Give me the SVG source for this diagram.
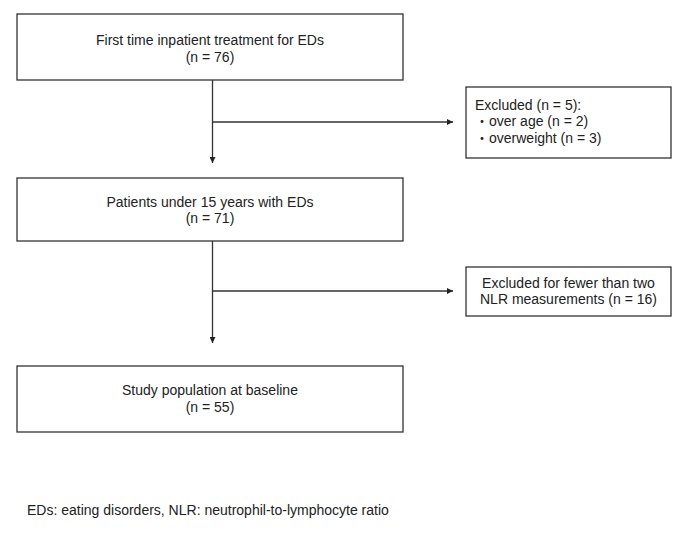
<svg xmlns="http://www.w3.org/2000/svg" width="685" height="533" viewBox="0 0 685 533">
<defs>
<style>
.box{fill:#fff;stroke:#333;stroke-width:1.3}
.ln{fill:none;stroke:#333;stroke-width:1.3}
text{font-family:"Liberation Sans",Arial,"Noto Sans CJK JP",sans-serif;font-size:14px;fill:#222}
.c{text-anchor:middle}
</style>
<marker id="ah" viewBox="0 0 10 10" refX="10" refY="5" markerWidth="6" markerHeight="6" markerUnits="userSpaceOnUse" orient="auto">
<path d="M0,0 L10,5 L0,10 z" fill="#222"/>
</marker>
</defs>
<rect width="685" height="533" fill="#fff"/>
<g id="connectors">
<line class="ln" x1="212.5" y1="80" x2="212.5" y2="163" marker-end="url(#ah)"/>
<line class="ln" x1="212.5" y1="122" x2="453" y2="122" marker-end="url(#ah)"/>
<line class="ln" x1="212.5" y1="241" x2="212.5" y2="343" marker-end="url(#ah)"/>
<line class="ln" x1="212.5" y1="291" x2="453" y2="291" marker-end="url(#ah)"/>
</g>
<g id="n1">
<rect class="box" x="17" y="14" width="386" height="66"/>
<text class="c" x="210" y="45">First time inpatient treatment for EDs</text>
<text class="c" x="210" y="62">(n = 76)</text>
</g>
<g id="n2">
<rect class="box" x="466" y="87" width="205" height="71"/>
<text x="475" y="110">Excluded (n = 5):</text>
<text x="475" y="126">・over age (n = 2)</text>
<text x="475" y="143">・overweight (n = 3)</text>
</g>
<g id="n3">
<rect class="box" x="17" y="178" width="386" height="63"/>
<text class="c" x="210" y="207">Patients under 15 years with EDs</text>
<text class="c" x="210" y="223">(n = 71)</text>
</g>
<g id="n4">
<rect class="box" x="466" y="267" width="205" height="49"/>
<text class="c" x="568.5" y="288">Excluded for fewer than two</text>
<text class="c" x="568.5" y="304">NLR measurements (n = 16)</text>
</g>
<g id="n5">
<rect class="box" x="17" y="366" width="386" height="66"/>
<text class="c" x="210" y="395">Study population at baseline</text>
<text class="c" x="210" y="412">(n = 55)</text>
</g>
<text x="27" y="515">EDs: eating disorders, NLR: neutrophil-to-lymphocyte ratio</text>
</svg>
